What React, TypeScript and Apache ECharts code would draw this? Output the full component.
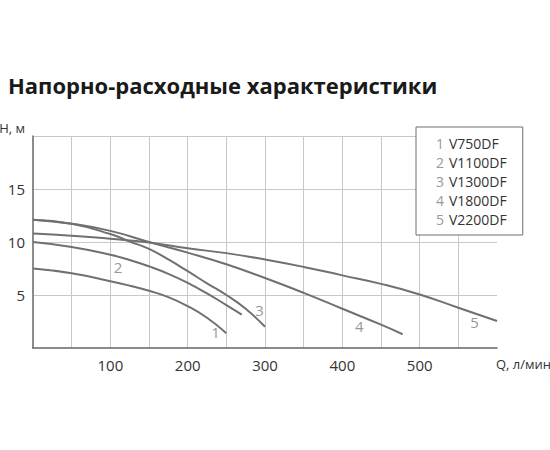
import React, { useEffect, useRef } from "react";
import * as echarts from "echarts";

const titleText = "Напорно-расходные характеристики";
const yAxisName = "H, м";
const xAxisName = "Q, л/мин";
const modelNames = ["V750DF", "V1100DF", "V1300DF", "V1800DF", "V2200DF"];

const curve1 = [[0, 7.5], [50, 7.05], [100, 6.3], [125, 5.88], [150, 5.4], [175, 4.8], [200, 3.95], [225, 2.85], [250, 1.4]];
const curve2 = [[0, 10.0], [50, 9.53], [100, 8.8], [125, 8.3], [150, 7.7], [175, 7.0], [200, 6.15], [225, 5.15], [250, 4.05], [270, 3.15]];
const curve3 = [[0, 12.1], [50, 11.72], [100, 10.75], [125, 10.05], [150, 9.35], [175, 8.35], [200, 7.25], [225, 6.1], [250, 5.0], [275, 3.7], [300, 2.0]];
const curve4 = [[0, 12.1], [50, 11.72], [100, 11.05], [150, 10.0], [200, 9.0], [250, 7.9], [300, 6.6], [350, 5.2], [400, 3.7], [450, 2.2], [478, 1.3]];
const curve5 = [[0, 10.8], [50, 10.6], [100, 10.3], [150, 9.95], [200, 9.4], [250, 8.95], [300, 8.35], [350, 7.65], [400, 6.85], [450, 6.05], [500, 5.05], [550, 3.8], [600, 2.55]];
const curves = [curve1, curve2, curve3, curve4, curve5];

const curveLabelNames = ["1", "2", "3", "4", "5"];
const curveLabelPos = [[236, 1.5], [110, 7.6], [293, 3.6], [422, 2.1], [571, 2.45]];

const FONT = "'Open Sans', 'Noto Sans', sans-serif";
const CURVE_COLOR = "#707070";

export default function App() {
  const ref = useRef<HTMLDivElement>(null);
  useEffect(() => {
    if (!ref.current) return;
    const chart = echarts.init(ref.current, undefined, { renderer: "svg" });
    const lineSeries = curves.map((c, i) => ({
      type: "line",
      name: modelNames[i],
      data: c,
      smooth: 0.5,
      symbol: "none",
      silent: true,
      color: CURVE_COLOR,
      lineStyle: { color: CURVE_COLOR, width: 2 },
    }));
    const option: any = {
      animation: false,
      backgroundColor: "#ffffff",
      textStyle: { fontFamily: FONT },
      title: {
        text: titleText,
        left: 3,
        top: 66,
        textStyle: { fontFamily: FONT, fontWeight: "bold", fontSize: 22, color: "#1a1a1a", lineHeight: 28 },
      },
      grid: { left: 33, right: 53, top: 136, bottom: 102, containLabel: false, outerBoundsMode: "none" },
      legend: {
        data: modelNames,
        orient: "vertical",
        left: 416,
        top: 127,
        icon: "none",
        itemWidth: 0,
        itemHeight: 14,
        itemGap: 5,
        padding: [9, 16, 9, 15],
        borderColor: "#6e6e6e",
        borderWidth: 1,
        backgroundColor: "#ffffff",
        selectedMode: false,
        formatter: (name: string) => `{n|${modelNames.indexOf(name) + 1}}{v|${name}}`,
        textStyle: {
          fontFamily: FONT,
          fontSize: 14,
          lineHeight: 14,
          rich: {
            n: { fontFamily: FONT, fontSize: 14, color: "#999999", width: 13 },
            v: { fontFamily: FONT, fontSize: 14, color: "#333333" },
          },
        },
      },
      xAxis: {
        type: "value",
        min: 0,
        max: 600,
        interval: 50,
        axisLine: { show: true, onZero: false, lineStyle: { color: "#666666", width: 1.5 } },
        axisTick: { show: false },
        splitLine: { show: true, showMinLine: false, showMaxLine: false, lineStyle: { color: "#c8c8c8", width: 1 } },
        axisLabel: {
          show: true,
          margin: 9,
          fontFamily: FONT,
          fontSize: 15,
          color: "#333333",
          showMinLabel: true,
          showMaxLabel: true,
          hideOverlap: false,
          formatter: (v: number) => {
            if (v === 600) return `{q|${xAxisName}}`;
            if (v > 0 && v % 100 === 0) return String(v);
            return "";
          },
          rich: {
            q: { fontFamily: FONT, fontSize: 13, color: "#333333", padding: [0, 0, 0, 53] },
          },
        },
      },
      yAxis: {
        type: "value",
        min: 0,
        max: 20,
        interval: 5,
        axisLine: { show: true, onZero: false, lineStyle: { color: "#666666", width: 1.5 } },
        axisTick: { show: false },
        splitLine: { show: true, showMinLine: false, showMaxLine: true, lineStyle: { color: "#c8c8c8", width: 1 } },
        axisLabel: {
          show: true,
          margin: 8,
          fontFamily: FONT,
          fontSize: 15,
          color: "#333333",
          showMinLabel: true,
          showMaxLabel: true,
          formatter: (v: number) => {
            if (v === 20) return `{h|${yAxisName}}`;
            if (v === 0) return "";
            return String(v);
          },
          rich: {
            h: { fontFamily: FONT, fontSize: 13, color: "#333333", padding: [0, 0, 17, 0] },
          },
        },
      },
      series: [
        ...lineSeries,
        {
          type: "scatter",
          name: "labels",
          silent: true,
          symbolSize: 1,
          itemStyle: { color: "rgba(0,0,0,0)" },
          data: curveLabelNames.map((n, i) => ({ name: n, value: curveLabelPos[i] })),
          label: {
            show: true,
            position: "inside",
            formatter: "{b}",
            fontFamily: FONT,
            fontSize: 15,
            color: "#7a7a7a",
          },
        },
      ],
    };
    chart.setOption(option);
    return () => chart.dispose();
  }, []);
  return (
    <div
      ref={ref}
      style={{ position: "absolute", left: 0, top: 0, width: 550, height: 450, background: "#fff" }}
    />
  );
}
